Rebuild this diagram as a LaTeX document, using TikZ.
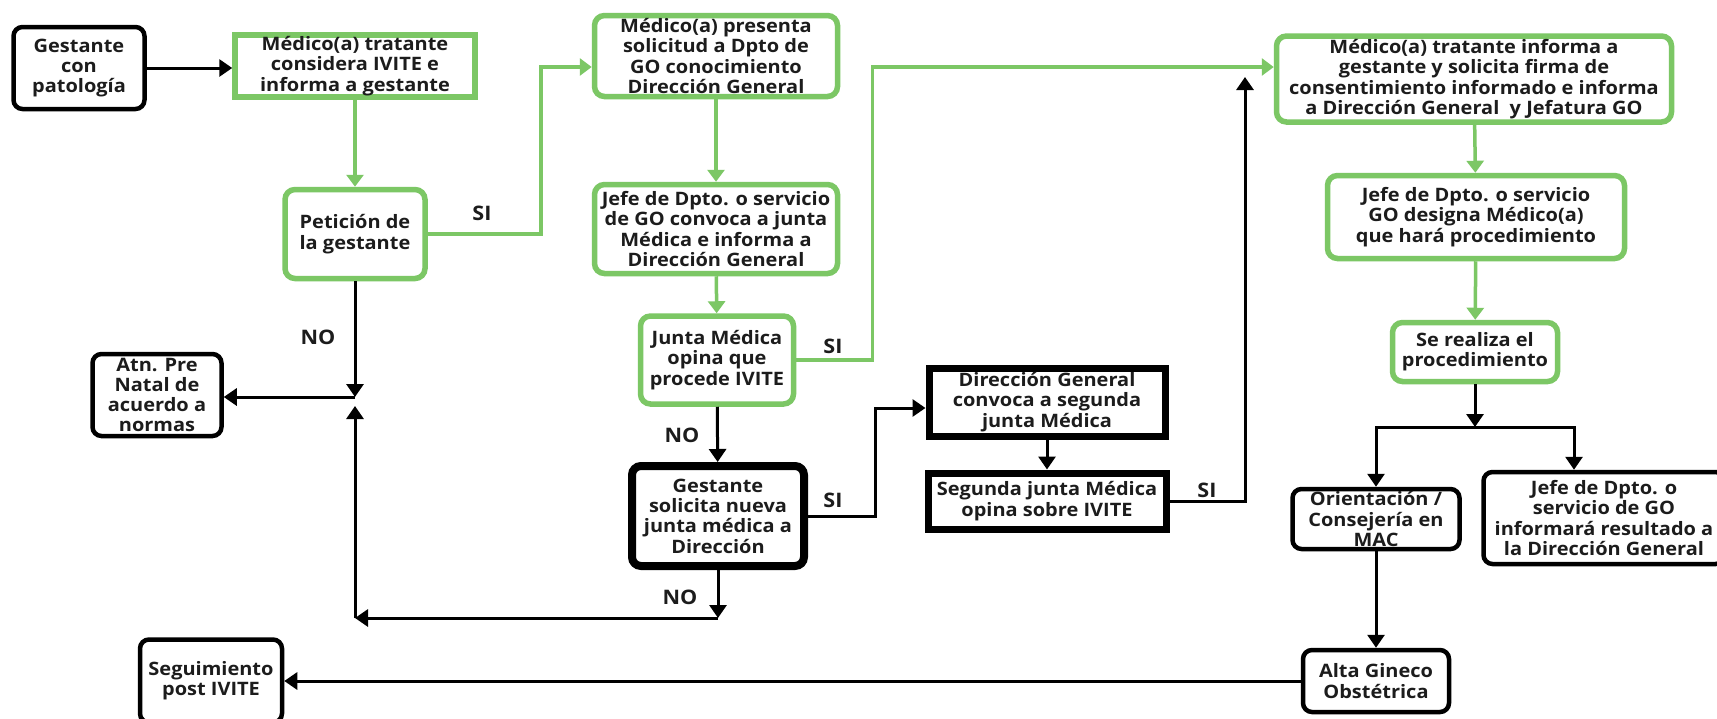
\documentclass[tikz,border=0pt]{standalone}
\usepackage{fontspec}
\setmainfont{Open Sans}[FakeStretch=1.08]
\usetikzlibrary{arrows.meta,positioning,calc}
\definecolor{gverde}{HTML}{7CC765}
\definecolor{gtexto}{HTML}{1C1C1C}

\begin{document}
\begin{tikzpicture}[
  x=1pt,y=-1pt,
  font=\bfseries\fontsize{18.5}{20.3}\selectfont,
  every node/.style={text=gtexto},
  gbox/.style={draw=gverde,line width=5.5pt,rounded corners=10pt,fill=white,align=center,
               inner sep=1pt},
  gsq/.style={gbox,sharp corners},
  kbox/.style={draw=black,line width=4.5pt,rounded corners=9pt,fill=white,align=center,
               inner sep=1pt},
  ksq/.style={kbox,sharp corners,line width=7pt},
  gar/.style={-{Triangle[length=12pt,width=17pt]},draw=gverde,line width=3.5pt},
  kar/.style={-{Triangle[length=13pt,width=17pt]},draw=black,line width=3pt},
  lab/.style={font=\bfseries\fontsize{20}{22}\selectfont}
]
\useasboundingbox (0,0) rectangle (1717,718);
\fill[white] (0,0) rectangle (1717,718);

% left column
\node[kbox,minimum width=131,minimum height=82] (gest) at (79,68) {Gestante\\con\\patología};
\node[gsq,minimum width=240,minimum height=62] (medtrat) at (355,66)
  {Médico(a) tratante\\considera IVITE e\\informa a gestante};
\node[gbox,minimum width=140,minimum height=89] (peti) at (355,234)
  {Petición de\\la gestante};
\node[kbox,minimum width=129,minimum height=82] (atn) at (157,395)
  {Atn. Pre\\Natal de\\acuerdo a\\normas};
\node[kbox,minimum width=142,minimum height=83] (segui) at (211,681)
  {Seguimiento\\post IVITE};

% middle column
\node[gbox,minimum width=243,minimum height=81] (medpres) at (716,56)
  {Médico(a) presenta\\solicitud a Dpto de\\GO conocimiento\\Dirección General};
\node[gbox,minimum width=243,minimum height=89] (jefeconv) at (716,229)
  {Jefe de Dpto. o servicio\\de GO convoca a junta\\Médica e informa a\\Dirección General};
\node[gbox,minimum width=153,minimum height=88] (junta) at (717,360)
  {Junta Médica\\opina que\\procede IVITE};
\node[kbox,line width=8pt,minimum width=172,minimum height=100] (solic) at (718,516)
  {Gestante\\solicita nueva\\junta médica a\\Dirección};
\node[ksq,minimum width=236,minimum height=68] (dirconv) at (1047,402)
  {Dirección General\\convoca a segunda\\junta Médica};
\node[ksq,minimum width=238,minimum height=56] (segunda) at (1047,501)
  {Segunda junta Médica\\opina sobre IVITE};

% right column
\node[gbox,minimum width=395,minimum height=86] (medinf) at (1474,79)
  {Médico(a) tratante informa a\\gestante y solicita firma de\\consentimiento informado e informa\\a Dirección General\ \ y Jefatura GO};
\node[gbox,minimum width=297,minimum height=83] (jefedes) at (1476,217)
  {Jefe de Dpto. o servicio\\GO designa Médico(a)\\que hará procedimiento};
\node[gbox,minimum width=165,minimum height=59] (realiza) at (1475,352)
  {Se realiza el\\procedimiento};
\node[kbox,minimum width=167,minimum height=60] (orient) at (1376,519)
  {Orientación /\\Consejería en\\MAC};
\node[kbox,minimum width=241,minimum height=92] (jefeinf) at (1604,518)
  {Jefe de Dpto. o\\servicio de GO\\informará resultado a\\la Dirección General};
\node[kbox,minimum width=146,minimum height=62] (alta) at (1376,681)
  {Alta Gineco\\Obstétrica};

\coordinate (jn) at (355,397);
\coordinate (jb) at (718,618);
\coordinate (jc) at (355,618);
\coordinate (ju) at (355,406);
\coordinate (rep) at (1245,77);
\coordinate (ramal) at (1475,427);

% connectors
\draw[kar] (gest.east) -- (gest.east -| medtrat.west);
\draw[gar] (medtrat) -- (peti);
\draw[gar] (peti.east) -- ++(113,0) |- ([yshift=-11pt]medpres.west);
\draw[gar] (medpres) -- (jefeconv);
\draw[gar] (jefeconv) -- (junta);
\draw[gar] (junta.east) -- ++(76,0) |- ([yshift=12pt]medinf.west);
\draw[kar] (junta) -- (solic);
\draw[kar] (solic.east) -- ++(67,0) |- ([yshift=-6pt]dirconv.west);
\draw[kar] (dirconv) -- (segunda);
\draw[kar] (segunda.east) -| (rep);
\draw[gar] (medinf) -- (jefedes);
\draw[gar] (jefedes) -- (realiza);
\draw[kar] (realiza) -- (ramal);
\draw[kar] (ramal) -| (orient.north);
\draw[kar] (ramal) -| ([xshift=-30pt]jefeinf.north);
\draw[kar] (orient) -- (alta);
\draw[kar] (alta.west) -- (alta.west -| segui.east);
\draw[kar] (peti) -- (jn);
\draw[kar] (jn) -- (jn -| atn.east);
\draw[kar] (solic) -- (jb);
\draw[kar] (jb) -- (jc);
\draw[kar] (jc) -- (ju);

% labels
\node[lab] (si1) at (482,213) {SI};
\node[lab] (si2) at (833,346) {SI};
\node[lab] (si3) at (833,500) {SI};
\node[lab] (si4) at (1207,490) {SI};
\node[lab] (no1) at (318,337) {NO};
\node[lab] (no2) at (682,435) {NO};
\node[lab] (no3) at (680,597) {NO};
\end{tikzpicture}
\end{document}
